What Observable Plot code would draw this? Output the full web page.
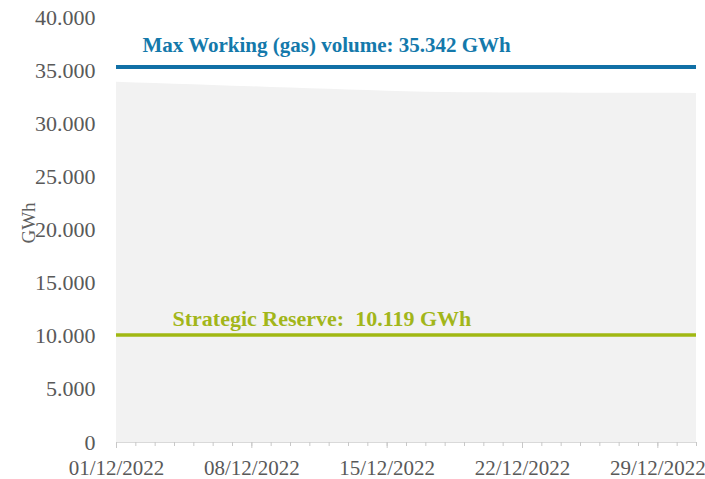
<!DOCTYPE html>
<html>
<head>
<meta charset="utf-8">
<script src="https://cdn.jsdelivr.net/npm/d3@7"></script>
<script src="https://cdn.jsdelivr.net/npm/@observablehq/plot@0.6"></script>
<style>
  html, body { margin: 0; padding: 0; background: #fff; }
  #chart svg { display: block; }
</style>
</head>
<body>
<div id="chart"></div>
<script>
// Days of December 2022
const dates = [
  "2022-12-01","2022-12-02","2022-12-03","2022-12-04","2022-12-05","2022-12-06","2022-12-07",
  "2022-12-08","2022-12-09","2022-12-10","2022-12-11","2022-12-12","2022-12-13","2022-12-14",
  "2022-12-15","2022-12-16","2022-12-17","2022-12-18","2022-12-19","2022-12-20","2022-12-21",
  "2022-12-22","2022-12-23","2022-12-24","2022-12-25","2022-12-26","2022-12-27","2022-12-28",
  "2022-12-29","2022-12-30","2022-12-31"
];
// Gas in storage (thousand GWh, shown with "." thousands separator)
const storage = [
  33.90, 33.84, 33.78, 33.72, 33.66, 33.60, 33.54,
  33.48, 33.42, 33.36, 33.30, 33.24, 33.18, 33.12,
  33.06, 33.01, 32.97, 32.94, 32.92, 32.91, 32.90,
  32.90, 32.89, 32.89, 32.88, 32.88, 32.87, 32.87,
  32.86, 32.86, 32.85
];
const maxWorking = 35.342;
const strategicReserve = 10.119;
const maxLabel = "Max Working (gas) volume: 35.342 GWh";
const reserveLabel = "Strategic Reserve:  10.119 GWh";
const yTicks = [0, 5, 10, 15, 20, 25, 30, 35, 40];
const weekTicks = ["2022-12-01","2022-12-08","2022-12-15","2022-12-22","2022-12-29"];
const yLabel = "GWh";

const parse = d3.utcParse("%Y-%m-%d");
const data = dates.map((d, i) => ({date: parse(d), value: storage[i]}));
const days = dates.map(parse);
const weeks = weekTicks.map(parse);
const first = days[0], last = days[days.length - 1];

const fmtY = v => v === 0 ? "0" : d3.format(".3f")(v);
const FONT = "'Liberation Serif', 'DejaVu Serif', serif";

const chart = Plot.plot({
  width: 705,
  height: 479,
  marginTop: 17,
  marginBottom: 37,
  marginLeft: 116,
  marginRight: 9,
  style: {fontFamily: FONT, fontSize: "22px", color: "#595959", background: "#fff"},
  x: {type: "utc", domain: [first, last]},
  y: {domain: [0, 40]},
  marks: [
    Plot.areaY(data, {x: "date", y: "value", fill: "#f2f2f2", curve: "linear"}),
    Plot.ruleY([0], {stroke: "#d9d9d9", strokeWidth: 1}),
    Plot.axisX({ticks: days, tickSize: 4, tickFormat: () => "", stroke: "#c8c8c8", label: null}),
    Plot.axisX({ticks: weeks, tickSize: 6, tickPadding: 12, stroke: "#c8c8c8", fill: "#595959",
      tickFormat: d3.utcFormat("%d/%m/%Y"), fontSize: 21, label: null}),
    Plot.axisY({ticks: yTicks, tickSize: 0, tickPadding: 21, tickFormat: fmtY, fill: "#595959", label: null}),
    Plot.text([yLabel], {x: () => first, y: () => 20.66, dx: -88, rotate: -90,
      textAnchor: "middle", lineAnchor: "middle", fill: "#606060", fontSize: 19}),
    Plot.ruleY([strategicReserve], {x1: first, x2: last, stroke: "#a1b813", strokeWidth: 3.5}),
    Plot.ruleY([maxWorking], {x1: first, x2: last, stroke: "#1170a6", strokeWidth: 4}),
    Plot.text([maxLabel], {x: first, y: maxWorking, dx: 26, dy: -22, textAnchor: "start",
      fill: "#1479ab", fontWeight: "bold", fontSize: 21}),
    Plot.text([reserveLabel], {x: first, y: strategicReserve, dx: 56, dy: -16, textAnchor: "start",
      fill: "#a2b61a", fontWeight: "bold", fontSize: 22})
  ]
});
document.getElementById("chart").appendChild(chart);
</script>
</body>
</html>
